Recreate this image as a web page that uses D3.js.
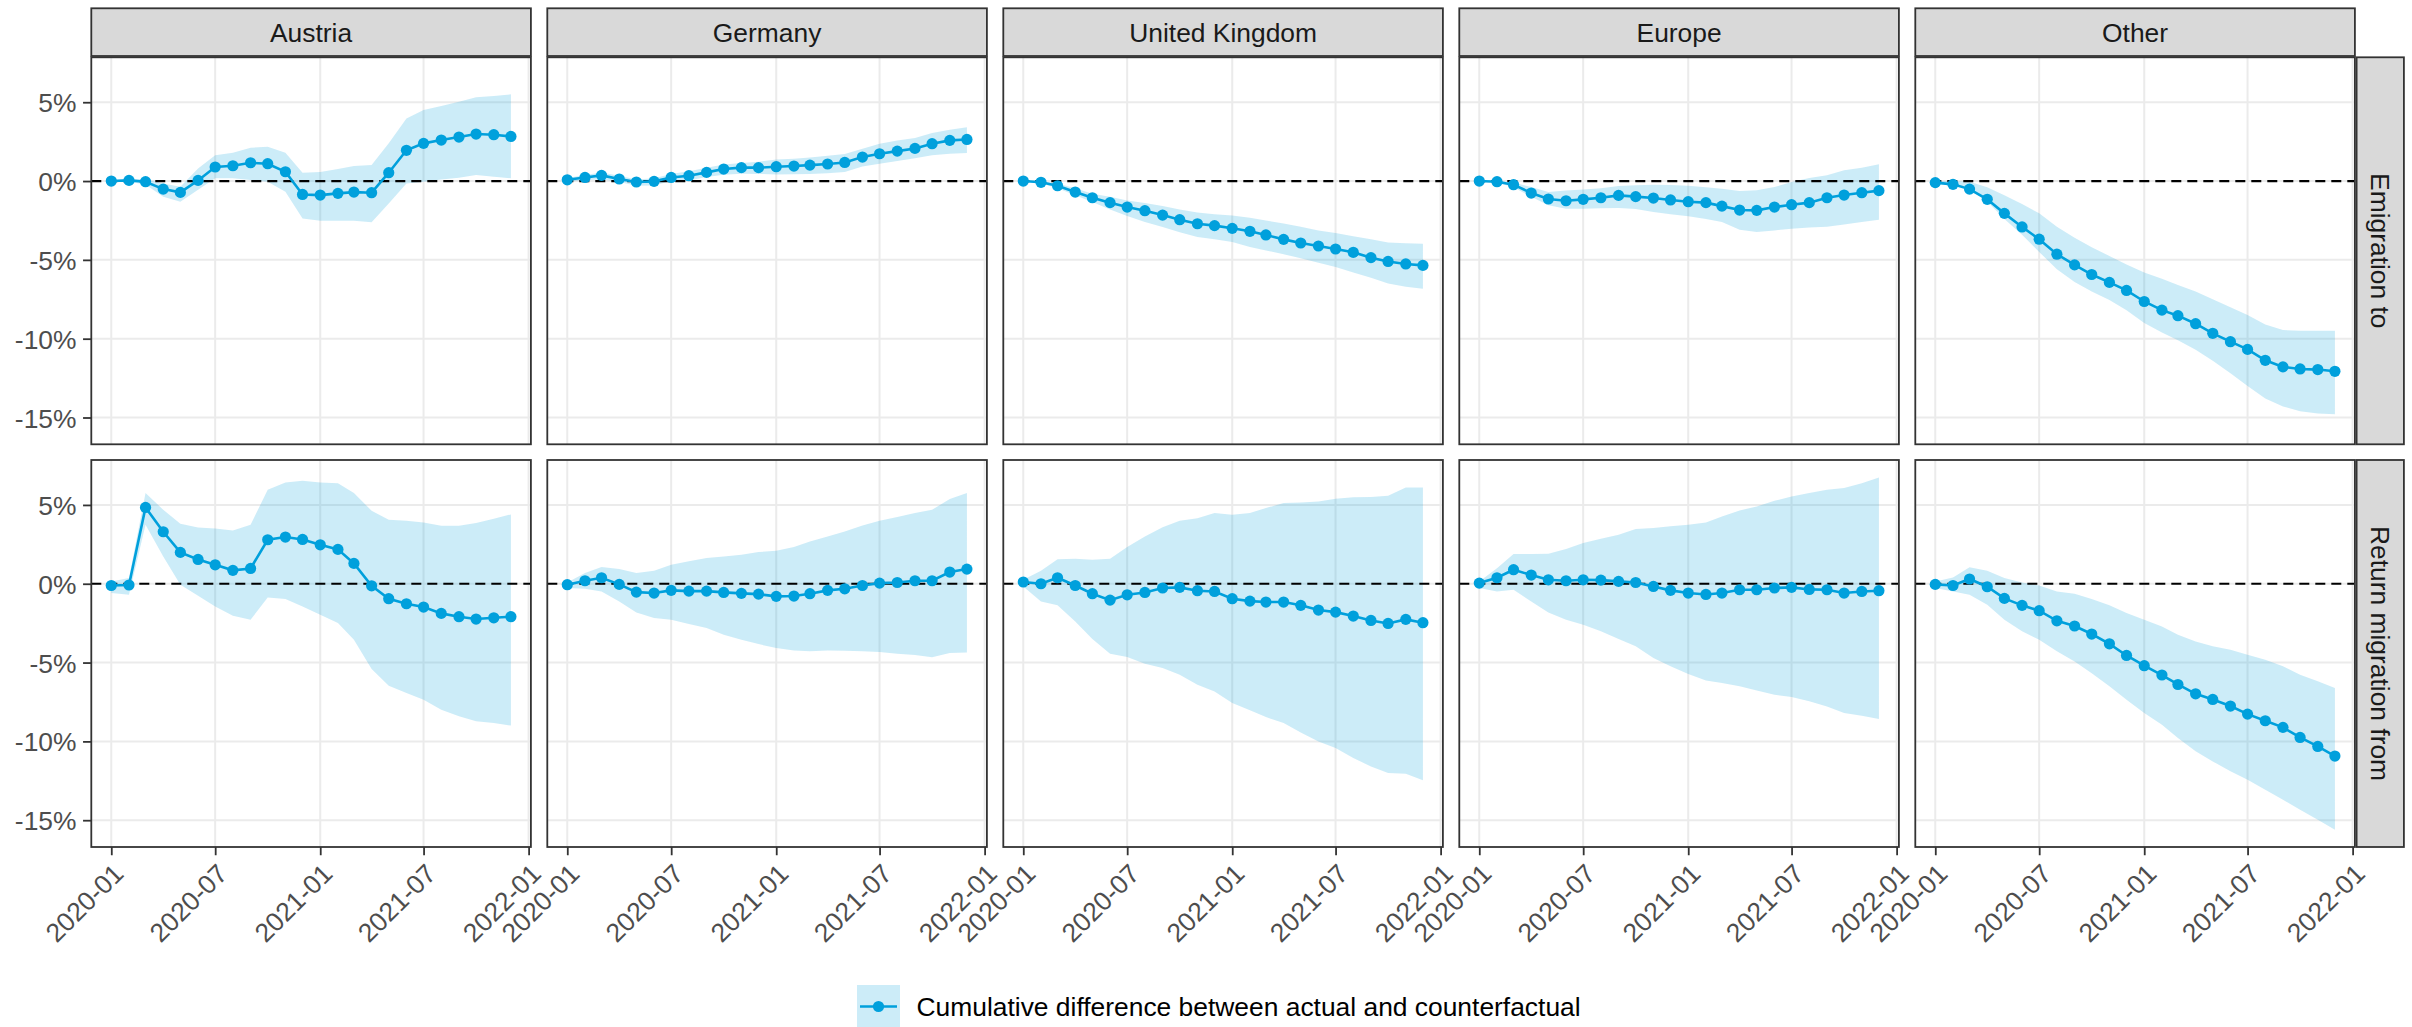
<!DOCTYPE html>
<html>
<head>
<meta charset="utf-8">
<script src="https://cdn.jsdelivr.net/npm/d3@7"></script>
<style>
  body { margin: 0; background: #ffffff; }
  svg { display: block; }
  text { font-family: "Liberation Sans", Arial, Helvetica, sans-serif; }
</style>
</head>
<body>
<svg id="chart" width="2412" height="1027"></svg>
<script>
// ---- categories & labels ----
const months = ["2020-01","2020-02","2020-03","2020-04","2020-05","2020-06","2020-07","2020-08","2020-09","2020-10","2020-11","2020-12",
                "2021-01","2021-02","2021-03","2021-04","2021-05","2021-06","2021-07","2021-08","2021-09","2021-10","2021-11","2021-12"];
const destinations = ["Austria", "Germany", "United Kingdom", "Europe", "Other"];
const flows = ["Emigration to", "Return migration from"];
const xTickLabels = ["2020-01", "2020-07", "2021-01", "2021-07", "2022-01"];
const yTickValues = [5, 0, -5, -10, -15];
const legendLabel = "Cumulative difference between actual and counterfactual";

// ---- Emigration to: estimate, lower and upper band (percent) ----
const emigAustria     = [0, 0.04, -0.04, -0.51, -0.72, 0.04, 0.89, 0.97, 1.16, 1.10, 0.59, -0.85, -0.89, -0.78, -0.70, -0.74, 0.53, 1.95, 2.39, 2.60, 2.79, 2.98, 2.94, 2.83];
const emigAustriaLow  = [0, -0.05, -0.22, -0.99, -1.31, -0.55, 0.17, 0.17, 0.06, -0.04, -0.68, -2.37, -2.52, -2.52, -2.52, -2.62, -1.42, -0.15, -0.04, 0.10, 0.21, 0.38, 0.27, 0.17];
const emigAustriaHigh = [0, 0.12, 0.12, -0.15, -0.36, 0.80, 1.63, 1.80, 2.11, 2.18, 1.80, 0.53, 0.57, 0.76, 0.95, 1.01, 2.39, 3.97, 4.50, 4.76, 5.03, 5.31, 5.39, 5.50];

const emigGermany     = [0.08, 0.23, 0.36, 0.13, -0.06, -0.02, 0.23, 0.34, 0.55, 0.76, 0.85, 0.85, 0.91, 0.95, 1.01, 1.08, 1.18, 1.52, 1.73, 1.90, 2.07, 2.37, 2.58, 2.64];
const emigGermanyLow  = [-0.05, 0.05, 0.12, -0.06, -0.30, -0.28, 0.00, 0.04, 0.25, 0.40, 0.46, 0.45, 0.42, 0.43, 0.44, 0.50, 0.57, 0.93, 1.10, 1.27, 1.44, 1.63, 1.73, 1.78];
const emigGermanyHigh = [0.20, 0.38, 0.55, 0.34, 0.10, 0.18, 0.45, 0.62, 0.85, 1.05, 1.15, 1.22, 1.37, 1.42, 1.50, 1.60, 1.72, 2.05, 2.37, 2.58, 2.73, 3.04, 3.26, 3.42];

const emigUK     = [0, -0.08, -0.30, -0.70, -1.06, -1.37, -1.65, -1.88, -2.16, -2.45, -2.71, -2.83, -3.00, -3.19, -3.42, -3.70, -3.93, -4.12, -4.31, -4.52, -4.86, -5.10, -5.26, -5.35];
const emigUKLow  = [0, -0.15, -0.45, -0.90, -1.33, -1.80, -2.22, -2.60, -2.92, -3.25, -3.55, -3.70, -3.87, -4.19, -4.40, -4.65, -4.90, -5.18, -5.45, -5.80, -6.13, -6.50, -6.70, -6.83];
const emigUKHigh = [0, 0, -0.15, -0.45, -0.80, -1.00, -1.23, -1.40, -1.59, -1.80, -2.00, -2.10, -2.18, -2.33, -2.50, -2.70, -2.90, -3.13, -3.30, -3.50, -3.70, -3.90, -3.95, -3.97];

const emigEurope     = [0, -0.04, -0.23, -0.76, -1.14, -1.25, -1.16, -1.06, -0.91, -0.99, -1.08, -1.20, -1.31, -1.37, -1.59, -1.84, -1.86, -1.65, -1.50, -1.37, -1.06, -0.89, -0.74, -0.61];
const emigEuropeLow  = [0, -0.10, -0.40, -1.00, -1.54, -1.75, -1.75, -1.73, -1.71, -1.78, -1.97, -2.10, -2.24, -2.40, -2.60, -3.09, -3.24, -3.13, -3.02, -2.95, -2.90, -2.75, -2.60, -2.45];
const emigEuropeHigh = [0, 0, -0.10, -0.38, -0.70, -0.60, -0.53, -0.45, -0.32, -0.27, -0.23, -0.25, -0.30, -0.40, -0.49, -0.63, -0.59, -0.38, -0.06, 0.20, 0.36, 0.68, 0.85, 1.06];

const emigOther     = [-0.10, -0.21, -0.51, -1.16, -2.05, -2.91, -3.69, -4.64, -5.32, -5.93, -6.43, -6.94, -7.64, -8.19, -8.54, -9.05, -9.66, -10.19, -10.68, -11.37, -11.79, -11.92, -11.96, -12.07];
const emigOtherLow  = [0, -0.15, -0.45, -1.30, -2.40, -3.40, -4.50, -5.60, -6.40, -7.00, -7.55, -8.20, -9.00, -9.60, -10.10, -10.70, -11.40, -12.20, -13.00, -13.80, -14.30, -14.60, -14.75, -14.80];
const emigOtherHigh = [0, 0, -0.05, -0.40, -0.90, -1.45, -2.05, -2.90, -3.60, -4.20, -4.75, -5.30, -5.80, -6.20, -6.60, -7.00, -7.50, -8.00, -8.50, -9.10, -9.45, -9.50, -9.50, -9.50];

// ---- Return migration from: estimate, lower and upper band (percent) ----
const returnAustria     = [-0.11, -0.08, 4.84, 3.30, 1.99, 1.54, 1.20, 0.85, 0.97, 2.79, 2.96, 2.81, 2.47, 2.18, 1.29, -0.13, -0.95, -1.27, -1.48, -1.88, -2.09, -2.24, -2.16, -2.09];
const returnAustriaLow  = [-0.59, -0.70, 3.74, 1.73, -0.06, -0.76, -1.44, -2.03, -2.28, -0.87, -0.97, -1.44, -1.97, -2.49, -3.55, -5.41, -6.47, -6.93, -7.36, -7.99, -8.41, -8.73, -8.84, -9.00];
const returnAustriaHigh = [0.15, 0.36, 5.75, 4.69, 3.80, 3.57, 3.51, 3.38, 3.74, 5.96, 6.43, 6.53, 6.43, 6.38, 5.75, 4.63, 4.06, 4.00, 3.89, 3.68, 3.68, 3.85, 4.12, 4.40];

const returnGermany     = [-0.06, 0.19, 0.38, -0.04, -0.53, -0.59, -0.42, -0.47, -0.47, -0.55, -0.61, -0.66, -0.80, -0.78, -0.63, -0.42, -0.32, -0.11, 0.04, 0.08, 0.19, 0.19, 0.74, 0.93];
const returnGermanyLow  = [-0.27, -0.32, -0.49, -1.12, -1.82, -2.18, -2.28, -2.56, -2.81, -3.23, -3.55, -3.83, -4.08, -4.23, -4.29, -4.23, -4.25, -4.29, -4.33, -4.44, -4.52, -4.67, -4.40, -4.36];
const returnGermanyHigh = [0.08, 0.68, 1.06, 0.93, 0.68, 0.82, 1.20, 1.42, 1.63, 1.73, 1.84, 2.01, 2.09, 2.33, 2.68, 3.00, 3.32, 3.70, 4.00, 4.23, 4.48, 4.69, 5.37, 5.75];

const returnUK     = [0.11, 0, 0.38, -0.11, -0.63, -1.04, -0.70, -0.55, -0.27, -0.23, -0.44, -0.49, -0.95, -1.10, -1.16, -1.16, -1.37, -1.67, -1.80, -2.05, -2.33, -2.52, -2.26, -2.47];
const returnUKLow  = [-0.17, -1.12, -1.37, -2.39, -3.51, -4.44, -4.65, -5.07, -5.35, -5.77, -6.41, -6.83, -7.57, -8.03, -8.46, -8.84, -9.43, -10.00, -10.42, -11.06, -11.59, -12.00, -12.05, -12.47];
const returnUKHigh = [0.25, 0.82, 1.56, 1.58, 1.52, 1.58, 2.33, 3.00, 3.59, 4.00, 4.16, 4.48, 4.38, 4.48, 4.80, 5.12, 5.16, 5.22, 5.39, 5.48, 5.50, 5.58, 6.11, 6.11];

const returnEurope     = [0.04, 0.38, 0.89, 0.55, 0.25, 0.19, 0.25, 0.23, 0.15, 0.08, -0.17, -0.42, -0.59, -0.68, -0.59, -0.38, -0.38, -0.27, -0.23, -0.36, -0.38, -0.59, -0.49, -0.44];
const returnEuropeLow  = [-0.27, -0.49, -0.38, -1.12, -1.82, -2.28, -2.60, -3.02, -3.51, -3.97, -4.71, -5.24, -5.73, -6.13, -6.30, -6.51, -6.77, -7.04, -7.19, -7.46, -7.78, -8.20, -8.37, -8.58];
const returnEuropeHigh = [0.15, 0.99, 1.88, 1.88, 1.90, 2.20, 2.58, 2.85, 3.11, 3.47, 3.53, 3.64, 3.74, 3.89, 4.27, 4.65, 4.90, 5.26, 5.54, 5.75, 5.96, 6.07, 6.38, 6.74];

const returnOther     = [-0.04, -0.11, 0.30, -0.19, -0.93, -1.37, -1.71, -2.35, -2.68, -3.19, -3.81, -4.55, -5.20, -5.79, -6.39, -6.98, -7.34, -7.76, -8.27, -8.69, -9.11, -9.75, -10.32, -10.93];
const returnOtherLow  = [-0.27, -0.49, -0.70, -1.33, -2.28, -3.02, -3.55, -4.29, -4.93, -5.67, -6.51, -7.36, -8.20, -8.94, -9.79, -10.63, -11.27, -11.90, -12.43, -13.07, -13.70, -14.33, -14.97, -15.60];
const returnOtherHigh = [0.15, 0.40, 1.04, 0.82, 0.36, 0.08, -0.11, -0.49, -0.63, -0.97, -1.37, -1.86, -2.28, -2.71, -3.23, -3.66, -3.97, -4.19, -4.50, -4.82, -5.24, -5.77, -6.19, -6.62];

// series lookup per facet row / column: [estimate, low, high]
const panelSeries = [
  [[emigAustria, emigAustriaLow, emigAustriaHigh],
   [emigGermany, emigGermanyLow, emigGermanyHigh],
   [emigUK, emigUKLow, emigUKHigh],
   [emigEurope, emigEuropeLow, emigEuropeHigh],
   [emigOther, emigOtherLow, emigOtherHigh]],
  [[returnAustria, returnAustriaLow, returnAustriaHigh],
   [returnGermany, returnGermanyLow, returnGermanyHigh],
   [returnUK, returnUKLow, returnUKHigh],
   [returnEurope, returnEuropeLow, returnEuropeHigh],
   [returnOther, returnOtherLow, returnOtherHigh]]
];

// ---- layout ----
const svg = d3.select("#chart");
const blue = "#00A0DC";
const borderCol = "#333333";
const gridCol = "#EBEBEB";
const fontPx = 26.4;
const panelW = 439.6, panelH = 387, pitchX = 456.0, left0 = 91.3;
const rowTop = [57.3, 460];
const stripTop = 8.3, stripBottom = 56.0;
const tickLen = 8.25, tickPad = 6.6;

svg.append("rect").attr("width", 2412).attr("height", 1027).attr("fill", "#ffffff");

const parseMonth = d3.utcParse("%Y-%m");
const dates = months.map(parseMonth);
const xTickDates = xTickLabels.map(parseMonth);
const xDomain = [d3.utcDay.offset(dates[0], -35), d3.utcDay.offset(dates[dates.length - 1], 35)];
const y = d3.scaleLinear().domain([-16.7, 7.85]).range([panelH, 0]);

flows.forEach((flow, r) => {
  destinations.forEach((dest, c) => {
    const px = left0 + c * pitchX, py = rowTop[r];
    const x = d3.scaleUtc().domain(xDomain).range([0, panelW]);
    const g = svg.append("g").attr("transform", `translate(${px},${py})`);
    const [est, lo, hi] = panelSeries[r][c];
    const rows = dates.map((d, i) => ({ d, v: est[i], lo: lo[i], hi: hi[i] }));

    g.append("rect").attr("width", panelW).attr("height", panelH).attr("fill", "#ffffff");

    // major grid
    g.selectAll(".gx").data(xTickDates).join("line")
      .attr("x1", d => x(d)).attr("x2", d => x(d)).attr("y1", 0).attr("y2", panelH)
      .attr("stroke", gridCol).attr("stroke-width", 2);
    g.selectAll(".gy").data(yTickValues).join("line")
      .attr("x1", 0).attr("x2", panelW).attr("y1", d => y(d)).attr("y2", d => y(d))
      .attr("stroke", gridCol).attr("stroke-width", 2);

    // uncertainty band
    g.append("path").datum(rows)
      .attr("d", d3.area().x(d => x(d.d)).y0(d => y(d.lo)).y1(d => y(d.hi)))
      .attr("fill", blue).attr("fill-opacity", 0.2);

    // zero reference
    g.append("line").attr("x1", 0).attr("x2", panelW).attr("y1", y(0)).attr("y2", y(0))
      .attr("stroke", "#000000").attr("stroke-width", 2.2).attr("stroke-dasharray", "10,6");

    // estimate
    g.append("path").datum(rows)
      .attr("d", d3.line().x(d => x(d.d)).y(d => y(d.v)))
      .attr("fill", "none").attr("stroke", blue).attr("stroke-width", 2.6);
    g.selectAll(".pt").data(rows).join("circle")
      .attr("cx", d => x(d.d)).attr("cy", d => y(d.v)).attr("r", 5.6).attr("fill", blue);

    g.append("rect").attr("width", panelW).attr("height", panelH)
      .attr("fill", "none").attr("stroke", borderCol).attr("stroke-width", 1.8);

    // top strips
    if (r === 0) {
      const s = svg.append("g").attr("transform", `translate(${px},${stripTop})`);
      s.append("rect").attr("width", panelW).attr("height", stripBottom - stripTop)
        .attr("fill", "#D9D9D9").attr("stroke", borderCol).attr("stroke-width", 1.8);
      s.append("text").attr("x", panelW / 2).attr("y", (stripBottom - stripTop) / 2)
        .attr("dy", "0.36em").attr("text-anchor", "middle")
        .attr("font-size", fontPx).attr("fill", "#1A1A1A").text(dest);
    }

    // y axis on first column
    if (c === 0) {
      const ya = g.append("g").call(d3.axisLeft(y).tickValues(yTickValues)
        .tickFormat(d => `${d}%`).tickSize(tickLen).tickPadding(tickPad));
      ya.select(".domain").remove();
      ya.selectAll("line").attr("stroke", borderCol).attr("stroke-width", 1.8);
      ya.selectAll("text").attr("font-size", fontPx).attr("fill", "#4D4D4D")
        .attr("font-family", "Liberation Sans, Arial, sans-serif").attr("dy", "0.36em");
    }

    // x axis on bottom row
    if (r === flows.length - 1) {
      const xa = g.append("g").attr("transform", `translate(0,${panelH})`)
        .call(d3.axisBottom(x).tickValues(xTickDates).tickFormat(d3.utcFormat("%Y-%m"))
          .tickSize(tickLen).tickPadding(tickPad));
      xa.select(".domain").remove();
      xa.selectAll("line").attr("stroke", borderCol).attr("stroke-width", 1.8);
      xa.selectAll("text").attr("font-size", fontPx).attr("fill", "#4D4D4D")
        .attr("font-family", "Liberation Sans, Arial, sans-serif")
        .attr("text-anchor", "end").attr("x", 0).attr("y", 0).attr("dy", "0.72em")
        .attr("transform", `translate(0,${tickLen + tickPad}) rotate(-45)`);
    }

    // right strips
    if (c === destinations.length - 1) {
      const sx = px + panelW + 1.7, sw = 47.3;
      const s = svg.append("g").attr("transform", `translate(${sx},${py})`);
      s.append("rect").attr("width", sw).attr("height", panelH)
        .attr("fill", "#D9D9D9").attr("stroke", borderCol).attr("stroke-width", 1.8);
      s.append("text").attr("transform", `translate(${sw / 2},${panelH / 2}) rotate(90)`)
        .attr("dy", "0.36em").attr("text-anchor", "middle")
        .attr("font-size", fontPx).attr("fill", "#1A1A1A").text(flow);
    }
  });
});

// ---- legend ----
const keyX = 857, keyY = 985, keySize = 43;
const lg = svg.append("g");
lg.append("rect").attr("x", keyX).attr("y", keyY).attr("width", keySize).attr("height", keySize)
  .attr("fill", blue).attr("fill-opacity", 0.2);
lg.append("line").attr("x1", keyX + 3).attr("x2", keyX + keySize - 3)
  .attr("y1", keyY + keySize / 2).attr("y2", keyY + keySize / 2)
  .attr("stroke", blue).attr("stroke-width", 2.6);
lg.append("circle").attr("cx", keyX + keySize / 2).attr("cy", keyY + keySize / 2).attr("r", 5.6).attr("fill", blue);
lg.append("text").attr("x", keyX + keySize + 16.5).attr("y", keyY + keySize / 2).attr("dy", "0.36em")
  .attr("font-size", fontPx).attr("fill", "#000000").text(legendLabel);
</script>
</body>
</html>
